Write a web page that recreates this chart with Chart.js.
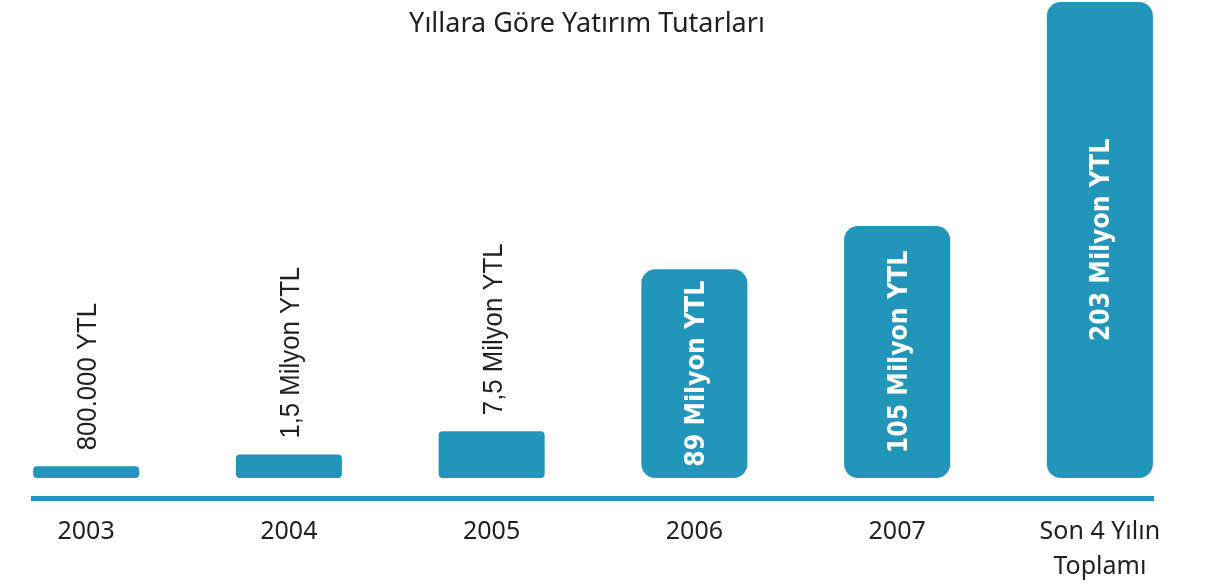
<!DOCTYPE html>
<html>
<head>
<meta charset="utf-8">
<script src="https://cdn.jsdelivr.net/npm/chart.js@4"></script>
<style>
  html, body { margin: 0; padding: 0; background: #fff; }
  #wrap { position: relative; width: 1208px; height: 587px; }
  #title {
    position: absolute; top: 3px; left: 0; width: 1174px;
    text-align: center; font: 27px "Noto Sans"; color: #231f20;
  }
</style>
</head>
<body>
<div id="wrap">
  <canvas id="chart"></canvas>
  <div id="title">Yıllara Göre Yatırım Tutarları</div>
</div>
<script>
// categories on the x axis
const years = ["2003", "2004", "2005", "2006", "2007", ["Son 4 Yılın", "Toplamı"]];
// bar heights as drawn in the picture (million YTL scale, small ones are exaggerated there)
const barHeights = [5, 10, 20, 89, 107.5, 203];
// value labels written on / above the bars
const valueLabels = ["800.000 YTL", "1,5 Milyon YTL", "7,5 Milyon YTL", "89 Milyon YTL", "105 Milyon YTL", "203 Milyon YTL"];

const teal = "#2295bb";
const textColor = "#231f20";

// draws the rotated value labels, inside the bar when it fits, else above it
const valueLabelPlugin = {
  id: "valueLabels",
  afterDatasetsDraw(chart) {
    const ctx = chart.ctx;
    const meta = chart.getDatasetMeta(0);
    meta.data.forEach((bar, i) => {
      const text = valueLabels[i];
      const barLen = bar.base - bar.y;

      ctx.save();
      ctx.font = "bold 26px 'DejaVu Sans'";
      const insideLen = ctx.measureText(text).width * 0.91;
      if (insideLen + 10 < barLen) {
        ctx.translate(bar.x, (bar.y + bar.base) / 2);
        ctx.rotate(-Math.PI / 2);
        ctx.scale(0.91, 1);
        ctx.fillStyle = "#ffffff";
        ctx.textAlign = "center";
        ctx.textBaseline = "alphabetic";
        ctx.fillText(text, 0, 9.5);
      } else {
        ctx.font = "28px 'Liberation Sans'";
        ctx.translate(bar.x, bar.y - 16);
        ctx.rotate(-Math.PI / 2);
        ctx.scale(0.92, 1);
        ctx.fillStyle = textColor;
        ctx.textAlign = "left";
        ctx.textBaseline = "alphabetic";
        ctx.fillText(text, 0, 10);
      }
      ctx.restore();
    });
  }
};

new Chart(document.getElementById("chart"), {
  type: "bar",
  data: {
    datasets: [{
      data: barHeights.map((h, i) => ({ x: i, y: h })),
      backgroundColor: teal,
      borderWidth: 0,
      borderSkipped: false,
      borderRadius: (c) => (c.raw && c.raw.y > 50 ? 14 : 4),
      barPercentage: 0.523,
      categoryPercentage: 1
    }]
  },
  options: {
    responsive: true,
    maintainAspectRatio: false,
    animation: false,
    layout: { padding: { left: 33, right: 55, top: 2, bottom: 0 } },
    plugins: {
      legend: { display: false },
      tooltip: { enabled: false }
    },
    scales: {
      x: {
        type: "linear",
        offset: false,
        min: -0.262,
        max: 5.262,
        grid: { display: false, drawTicks: false },
        border: { display: true, color: teal, width: 5 },
        afterFit: (scale) => { scale.height = 89; },
        ticks: {
          stepSize: 1,
          includeBounds: false,
          autoSkip: false,
          maxRotation: 0,
          padding: 16,
          color: textColor,
          font: { family: "Noto Sans", size: 25, lineHeight: 1.4 },
          callback: (v) => years[v]
        }
      },
      y: {
        display: false,
        min: -8.5,
        max: 203
      }
    }
  },
  plugins: [valueLabelPlugin]
});
</script>
</body>
</html>
